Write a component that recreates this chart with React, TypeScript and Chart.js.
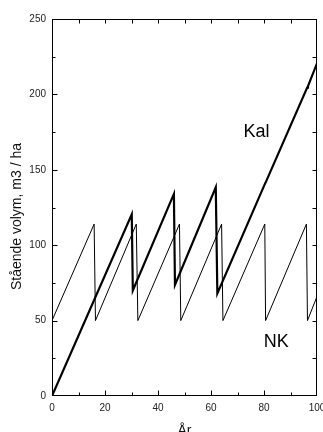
import React, { useEffect, useRef } from "react";
import { Chart, registerables } from "chart.js";

Chart.register(...registerables);

// Kal (thick line)
const kalYears = [0, 30.1, 30.5, 46, 46.4, 61.8, 62.4, 80.3, 80.6, 96.3, 96.6, 100];
const kalVolume = [0, 120.5, 70, 134, 73.6, 138.4, 68, 140.5, 141.5, 204.5, 205.5, 220.6];

// NK (thin sawtooth)
const nkYears = [0, 15.9, 16.4, 31.8, 32.4, 48.1, 48.6, 64, 64.5, 80.3, 80.6, 96, 96.4, 100];
const nkVolume = [50, 114, 50, 114, 50, 114, 50, 114, 50, 114, 50, 114, 50, 66];

const xTitle = "År";
const yTitle = "Stående volym, m3 / ha";

// series name annotations (data coordinates of text's left baseline)
const seriesNames = ["Kal", "NK"];
const nameX = [72.3, 79.9];
const nameY = [171.7, 32.7];

const FONT = '"Liberation Sans", Arial, sans-serif';

const toPoints = (xs: number[], ys: number[]) => xs.map((x, i) => ({ x, y: ys[i] }));

const frameTicks = {
  id: "frameTicks",
  afterDraw(chart: any) {
    const { ctx, chartArea: a, scales } = chart;
    const xs = scales.x;
    const ys = scales.y;
    ctx.save();
    ctx.strokeStyle = "#000";
    ctx.lineWidth = 1;
    const L = Math.round(a.left) + 0.5;
    const R = Math.round(a.right) - 0.5;
    const T = Math.round(a.top) + 0.5;
    const B = Math.round(a.bottom) - 0.5;
    ctx.strokeRect(L, T, R - L, B - T);
    ctx.beginPath();
    for (let v = 10; v < 100; v += 10) {
      const px = Math.round(xs.getPixelForValue(v)) + 0.5;
      const major = v % 20 === 0;
      ctx.moveTo(px, B);
      ctx.lineTo(px, B - (major ? 5 : 3));
      ctx.moveTo(px, T);
      ctx.lineTo(px, T + 4);
    }
    for (let v = 25; v < 250; v += 25) {
      const py = Math.round(ys.getPixelForValue(v)) + 0.5;
      const major = v % 50 === 0;
      ctx.moveTo(L, py);
      ctx.lineTo(L + (major ? 5 : 3), py);
      ctx.moveTo(R, py);
      ctx.lineTo(R - 4, py);
    }
    ctx.stroke();
    ctx.fillStyle = "#000";
    ctx.font = `18px ${FONT}`;
    ctx.textAlign = "left";
    ctx.textBaseline = "alphabetic";
    seriesNames.forEach((n, i) => {
      ctx.fillText(n, xs.getPixelForValue(nameX[i]), ys.getPixelForValue(nameY[i]));
    });
    // y-axis title
    ctx.fillStyle = "#111";
    ctx.font = `14px ${FONT}`;
    ctx.translate(20.5, ys.getPixelForValue(119));
    ctx.rotate(-Math.PI / 2);
    ctx.textAlign = "center";
    ctx.textBaseline = "alphabetic";
    ctx.fillText(yTitle, 0, 0);
    ctx.restore();
  },
};

export default function App() {
  const ref = useRef<HTMLCanvasElement>(null);
  useEffect(() => {
    if (!ref.current) return;
    const chart = new Chart(ref.current, {
      type: "line",
      data: {
        datasets: [
          {
            label: "Kal",
            data: toPoints(kalYears, kalVolume),
            borderColor: "#000",
            borderWidth: 2.2,
            pointRadius: 0,
            tension: 0,
            fill: false,
          },
          {
            label: "NK",
            data: toPoints(nkYears, nkVolume),
            borderColor: "#000",
            borderWidth: 1,
            pointRadius: 0,
            tension: 0,
            fill: false,
          },
        ],
      },
      options: {
        responsive: false,
        animation: false,
        layout: { padding: { top: 19, right: 6, left: 0, bottom: 0 } },
        plugins: { legend: { display: false }, tooltip: { enabled: false } },
        scales: {
          x: {
            type: "linear",
            min: 0,
            max: 100,
            ticks: { stepSize: 20, padding: 6, color: "#222", font: { family: FONT, size: 10 }, maxRotation: 0 },
            grid: { display: true, drawOnChartArea: false, drawTicks: false },
            border: { display: false },
            title: {
              display: true,
              text: xTitle,
              color: "#111",
              font: { family: FONT, size: 14, lineHeight: 1 },
              padding: { top: 0, bottom: -6 },
            },
            afterFit(scale: any) {
              scale.height = 36;
              scale.paddingLeft = 0;
              scale.paddingRight = 0;
            },
          },
          y: {
            type: "linear",
            min: 0,
            max: 250,
            ticks: { stepSize: 50, padding: 6, color: "#222", font: { family: FONT, size: 10 } },
            grid: { display: true, drawOnChartArea: false, drawTicks: false },
            border: { display: false },
            title: { display: false },
            afterFit(scale: any) {
              scale.width = 52;
              scale.paddingTop = 0;
              scale.paddingBottom = 0;
            },
          },
        },
      },
      plugins: [frameTicks],
    });
    return () => chart.destroy();
  }, []);
  return (
    <div style={{ position: "fixed", left: 0, top: 0, width: 323, height: 432, background: "#fff" }}>
      <canvas ref={ref} width={323} height={432} />
    </div>
  );
}
